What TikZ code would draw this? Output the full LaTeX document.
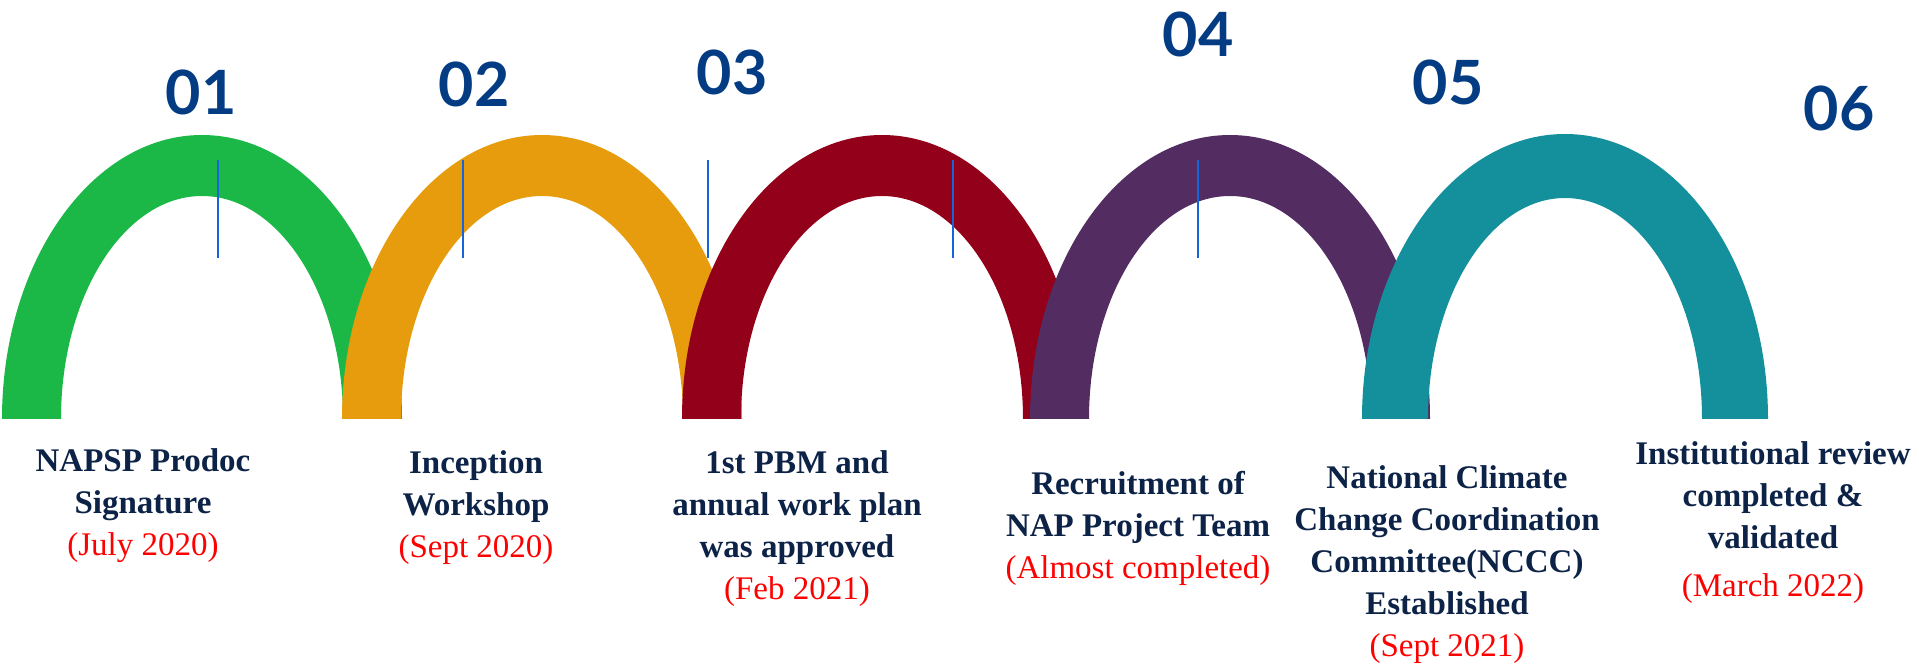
\documentclass[tikz,border=0pt]{standalone}
\usepackage{fontspec}
\setmainfont{Liberation Serif}
\newfontfamily\numfont{Lato}
\usetikzlibrary{positioning}
\definecolor{archgreen}{RGB}{27,184,71}
\definecolor{archorange}{RGB}{230,156,12}
\definecolor{archred}{RGB}{146,0,26}
\definecolor{archpurple}{RGB}{83,44,98}
\definecolor{archteal}{RGB}{19,144,156}
\definecolor{tickblue}{RGB}{22,100,217}
\definecolor{numblue}{RGB}{4,60,132}
\definecolor{navytext}{RGB}{12,35,71}
\definecolor{datered}{RGB}{255,0,0}
\tikzset{stepnum/.style={inner sep=0pt,text=numblue,
font=\numfont\bfseries\fontsize{30.5}{30.5}\selectfont}}
\tikzset{milestone/.style={align=center,inner sep=0pt,anchor=north,text=navytext,
font=\fontsize{16.5}{21}\selectfont\bfseries}}
\tikzset{tickline/.style={draw=tickblue,line width=1.3pt}}

\begin{document}
\begin{tikzpicture}[x=0.5pt,y=-0.5pt]

        \useasboundingbox (0,0) rectangle (1919,667);

        % arches, each one over the one before
        \fill[archgreen] (2,419) arc[start angle=180,end angle=360,x radius=200,y radius=284]
            -- (343,419) arc[start angle=0,end angle=-180,x radius=141,y radius=223] -- cycle;
        \fill[archorange] (342,419) arc[start angle=180,end angle=360,x radius=200,y radius=284]
            -- (683,419) arc[start angle=0,end angle=-180,x radius=141,y radius=223] -- cycle;
        \fill[archred] (682,419) arc[start angle=180,end angle=360,x radius=200,y radius=284]
            -- (1023,419) arc[start angle=0,end angle=-180,x radius=141,y radius=223] -- cycle;
        \fill[archpurple] (1030,419) arc[start angle=180,end angle=360,x radius=200,y radius=284]
            -- (1371,419) arc[start angle=0,end angle=-180,x radius=141,y radius=223] -- cycle;
        \fill[archteal] (1362,419) arc[start angle=180,end angle=360,x radius=203,y radius=285]
            -- (1702,419) arc[start angle=0,end angle=-180,x radius=137,y radius=221] -- cycle;

        \draw[tickline] (218,160) -- (218,258) (463,160) -- (463,258) (708,160) -- (708,258)
            (953,160) -- (953,258) (1198,160) -- (1198,258);

        \node[stepnum] (num1) at (201,92) {01};
        \node[stepnum] (num2) at (474,84) {02};
        \node[stepnum] (num3) at (732,72) {03};
        \node[stepnum] (num4) at (1198,34) {04};
        \node[stepnum] (num5) at (1448,82) {05};
        \node[stepnum] (num6) at (1839,108) {06};

        \node[milestone] (lab1) at (143,448) {NAPSP Prodoc\\Signature\\{\color{datered}\mdseries (July 2020)}};
        \node[milestone] (lab2) at (476,450) {Inception\\Workshop\\{\color{datered}\mdseries (Sept 2020)}};
        \node[milestone] (lab3) at (797,450) {1st PBM and\\annual work plan\\was approved\\{\color{datered}\mdseries (Feb 2021)}};
        \node[milestone] (lab4) at (1138,471) {Recruitment of\\NAP Project Team\\{\color{datered}\mdseries (Almost completed)}};
        \node[milestone] (lab5) at (1447,465) {National Climate\\Change Coordination\\Committee(NCCC)\\Established\\{\color{datered}\mdseries (Sept 2021)}};
        \node[milestone] (lab6) at (1773,441) {Institutional review\\completed \&\\validated\\[3pt]{\color{datered}\mdseries (March 2022)}};

\end{tikzpicture}
\end{document}
